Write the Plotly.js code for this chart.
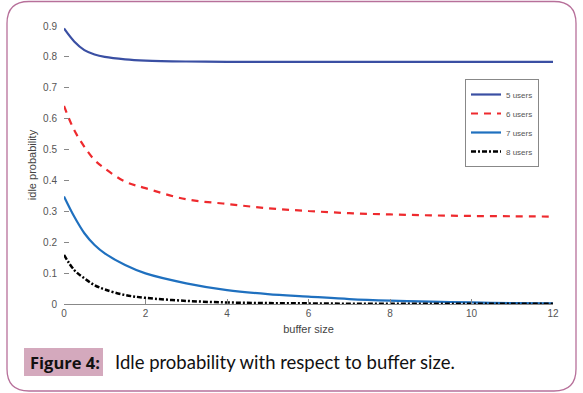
<!DOCTYPE html>
<html><head><meta charset="utf-8">
<script src="https://cdn.plot.ly/plotly-3.0.1.min.js"></script>
<style>html,body{margin:0;padding:0;background:#fff;}#chart{width:583px;height:393px;}</style>
</head><body><div id="chart"></div>
<script>
var bufferSize = [0, 0.25, 0.5, 0.75, 1, 1.5, 2, 3, 4, 5, 6, 7, 8, 9, 10, 11, 12];
var users5 = [0.892, 0.85, 0.822, 0.808, 0.800, 0.792, 0.788, 0.785, 0.784, 0.784, 0.784, 0.784, 0.784, 0.784, 0.784, 0.784, 0.784];
var users6 = [0.641, 0.563, 0.509, 0.466, 0.439, 0.396, 0.375, 0.339, 0.324, 0.310, 0.301, 0.294, 0.290, 0.287, 0.285, 0.284, 0.283];
var users7 = [0.348, 0.283, 0.229, 0.191, 0.164, 0.126, 0.099, 0.067, 0.045, 0.032, 0.024, 0.016, 0.011, 0.008, 0.005, 0.003, 0.002];
var users8 = [0.159, 0.110, 0.083, 0.061, 0.047, 0.029, 0.020, 0.010, 0.005, 0.003, 0.002, 0.001, 0.001, 0.001, 0.001, 0.001, 0.001];
var seriesNames = ['5 users', '6 users', '7 users', '8 users'];
var xTicks = [0, 2, 4, 6, 8, 10, 12];
var yTicks = [0, 0.1, 0.2, 0.3, 0.4, 0.5, 0.6, 0.7, 0.8, 0.9];
var yTickText = ['0', '0.1', '0.2', '0.3', '0.4', '0.5', '0.6', '0.7', '0.8', '0.9'];

var L = 64, R = 553, T = 26, B = 304, W = 583, H = 393;
function px(x){ return (x - L) / (R - L); }
function py(y){ return (B - y) / (B - T); }

var traces = [
  {x: bufferSize, y: users5, name: seriesNames[0], mode: 'lines', line: {color: '#3a4fa3', width: 2.2, shape: 'spline'}},
  {x: bufferSize, y: users6, name: seriesNames[1], mode: 'lines', line: {color: '#ee2a2e', width: 2.2, dash: '7px,6px', shape: 'spline'}},
  {x: bufferSize, y: users7, name: seriesNames[2], mode: 'lines', line: {color: '#1f70bf', width: 2.2, shape: 'spline'}},
  {x: bufferSize, y: users8, name: seriesNames[3], mode: 'lines', line: {color: '#000000', width: 2.5, dash: '5px,2px,2px,2px', shape: 'spline'}}
];

var fl = 7, fr = 576, ft = 1.5, fb = 391, rr = 22;
var framePath = 'M ' + px(fl + rr) + ' ' + py(ft) +
  ' L ' + px(fr - rr) + ' ' + py(ft) +
  ' Q ' + px(fr) + ' ' + py(ft) + ' ' + px(fr) + ' ' + py(ft + rr) +
  ' L ' + px(fr) + ' ' + py(fb - rr) +
  ' Q ' + px(fr) + ' ' + py(fb) + ' ' + px(fr - rr) + ' ' + py(fb) +
  ' L ' + px(fl + rr) + ' ' + py(fb) +
  ' Q ' + px(fl) + ' ' + py(fb) + ' ' + px(fl) + ' ' + py(fb - rr) +
  ' L ' + px(fl) + ' ' + py(ft + rr) +
  ' Q ' + px(fl) + ' ' + py(ft) + ' ' + px(fl + rr) + ' ' + py(ft) + ' Z';

var layout = {
  width: W, height: H,
  margin: {l: L, r: W - R, t: T, b: H - B, pad: 0},
  paper_bgcolor: '#ffffff', plot_bgcolor: 'rgba(0,0,0,0)',
  font: {family: 'Liberation Sans, Arial, sans-serif', size: 10, color: '#555'},
  showlegend: true,
  legend: {
    x: px(465), y: py(79), xanchor: 'left', yanchor: 'top',
    bgcolor: '#ffffff', bordercolor: '#888', borderwidth: 1,
    font: {size: 8, color: '#555'}, tracegroupgap: 0, itemwidth: 30
  },
  xaxis: {
    range: [0, 12], tickvals: xTicks, ticktext: xTicks.map(String),
    showgrid: false, zeroline: false, showline: true, linecolor: '#888', linewidth: 1,
    ticks: 'inside', ticklen: 5, tickcolor: '#888',
    tickfont: {size: 10, color: '#555'},
    title: {text: 'buffer size', font: {size: 11, color: '#444'}, standoff: 7}
  },
  yaxis: {
    range: [0, 0.9], tickvals: yTicks, ticktext: yTickText,
    showgrid: false, zeroline: false, showline: false,
    ticks: 'inside', ticklen: 5, tickcolor: '#888', ticklabelstandoff: 6,
    tickfont: {size: 10, color: '#555'},
    title: {text: 'idle probability', font: {size: 11, color: '#444'}, standoff: 4}
  },
  shapes: [
    {type: 'path', xref: 'paper', yref: 'paper', path: framePath, line: {color: '#b7709a', width: 1.3}, fillcolor: 'rgba(0,0,0,0)', layer: 'below'},
    {type: 'rect', xref: 'paper', yref: 'paper', x0: px(24), x1: px(103), y0: py(348), y1: py(376), fillcolor: '#d4a9bd', line: {width: 0}, layer: 'below'}
  ],
  annotations: [
    {xref: 'paper', yref: 'paper', x: px(65), y: py(362), xanchor: 'center', yanchor: 'middle', showarrow: false,
     text: '<b>Figure 4:</b>', font: {family: 'Open Sans, Lato, sans-serif', size: 16.5, color: '#111'}},
    {xref: 'paper', yref: 'paper', x: px(113), y: py(362), xanchor: 'left', yanchor: 'middle', showarrow: false,
     text: 'Idle probability with respect to buffer size.', font: {family: 'Lato, Open Sans, sans-serif', size: 18.5, color: '#111'}}
  ]
};

Plotly.newPlot('chart', traces, layout, {displayModeBar: false, staticPlot: true});
</script>
</body></html>
